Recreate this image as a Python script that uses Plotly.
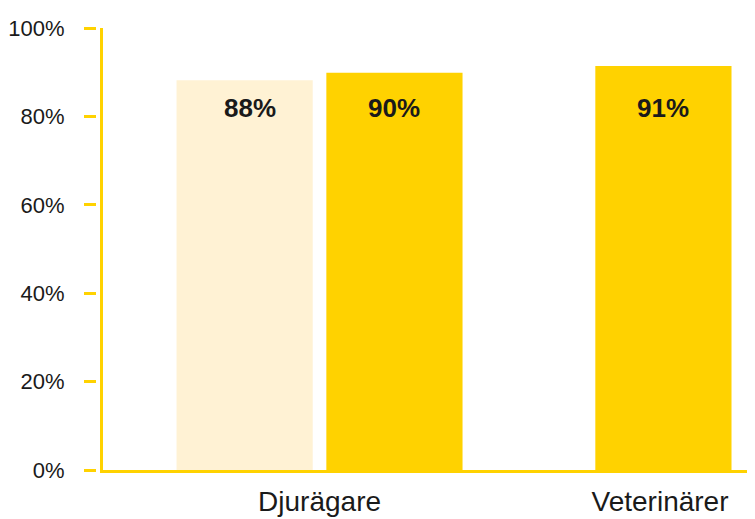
import plotly.graph_objects as go

categories = ["Djurägare", "Veterinärer"]
series_light_cats = ["Djurägare"]
series_light_vals = [88.2]
series_main_cats = ["Djurägare", "Veterinärer"]
series_main_vals = [89.9, 91.4]
tick_vals = [0, 20, 40, 60, 80, 100]
tick_text = ["0%", "20%", "40%", "60%", "80%", "100%"]

YELLOW = "#FFD200"
LIGHT = "#FFF2D4"
TEXT = "#1a1a1a"
BAR_W = 0.4
LIGHT_OFF = -0.42
MAIN_OFF = [0.02, -0.19]
LABEL_Y = 81.8

# page body adds an 8px margin; size the figure to fit the window
BODY = 8
W, H = 755 - BODY, 519 - BODY
ML, MR, MT, MB = 96 - BODY, 0, 28 - BODY, 49
pw = W - ML - MR
dom0 = 7 / pw

fig = go.Figure()
fig.add_trace(go.Bar(x=series_light_cats, y=series_light_vals, width=BAR_W,
                     offset=LIGHT_OFF, marker=dict(color=LIGHT, line=dict(width=0)),
                     showlegend=False, hoverinfo="skip"))
fig.add_trace(go.Bar(x=series_main_cats, y=series_main_vals, width=BAR_W,
                     offset=MAIN_OFF, marker=dict(color=YELLOW, line=dict(width=0)),
                     showlegend=False, hoverinfo="skip"))
# invisible trace to register the tick axis
fig.add_trace(go.Scatter(x=[categories[0]], y=[0], yaxis="y2", mode="markers",
                         marker=dict(opacity=0), showlegend=False, hoverinfo="skip"))

# value labels
idx = {c: i for i, c in enumerate(categories)}
for c, v in zip(series_light_cats, series_light_vals):
    fig.add_annotation(x=idx[c] + LIGHT_OFF + BAR_W / 2 + 0.015, y=LABEL_Y, text=f"{v:.0f}%",
                       showarrow=False, xref="x", yref="y",
                       font=dict(family="Liberation Sans", size=26, color=TEXT, weight="bold"))
for c, v, off in zip(series_main_cats, series_main_vals, MAIN_OFF):
    fig.add_annotation(x=idx[c] + off + BAR_W / 2, y=LABEL_Y, text=f"{v:.0f}%",
                       showarrow=False, xref="x", yref="y",
                       font=dict(family="Liberation Sans", size=26, color=TEXT, weight="bold"))

fig.update_layout(
    width=W, height=H,
    margin=dict(l=ML, r=MR, t=MT, b=MB, pad=0, autoexpand=False),
    paper_bgcolor="white", plot_bgcolor="white",
    barmode="overlay",
    xaxis=dict(type="category", categoryorder="array", categoryarray=categories,
               domain=[dom0, 1], range=[-0.636, 1.279], anchor="y",
               showline=True, linecolor=YELLOW, linewidth=3, ticks="",
               showgrid=False, zeroline=False, automargin=False,
               ticklabelstandoff=4,
               tickfont=dict(family="Liberation Sans", size=28, color=TEXT)),
    yaxis=dict(range=[0, 100], domain=[0, 1], anchor="x", showline=True,
               linecolor=YELLOW, linewidth=3, showticklabels=False, ticks="",
               showgrid=False, zeroline=False, automargin=False),
    yaxis2=dict(range=[0, 100], overlaying="y", anchor="free", position=0, side="left",
                showline=False, showgrid=False, zeroline=False, automargin=False,
                tickvals=tick_vals, ticktext=tick_text,
                ticks="outside", ticklen=12, tickwidth=3, tickcolor=YELLOW,
                ticklabelstandoff=15,
                tickfont=dict(family="Liberation Sans", size=22, color=TEXT)),
)

fig.write_html("out.html")
